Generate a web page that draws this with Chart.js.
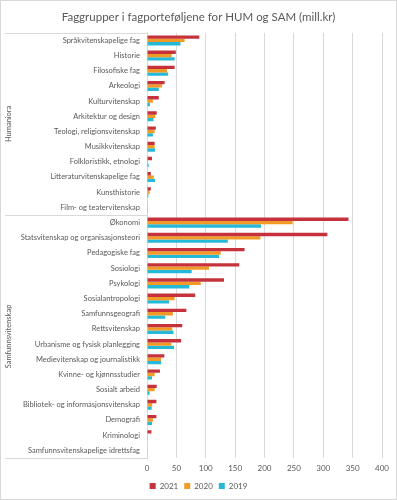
<!DOCTYPE html>
<html>
<head>
<meta charset="utf-8">
<script src="https://cdn.jsdelivr.net/npm/chart.js@4.4.0/dist/chart.umd.min.js"></script>
<style>
  body { margin: 0; background: #fff; }
</style>
</head>
<body>
<canvas id="fagChart" width="397" height="500"></canvas>
<script>
// Humaniora
var humLabels = ['Språkvitenskapelige fag', 'Historie', 'Filosofiske fag', 'Arkeologi', 'Kulturvitenskap',
    'Arkitektur og design', 'Teologi, religionsvitenskap', 'Musikkvitenskap', 'Folkloristikk, etnologi',
    'Litteraturvitenskapelige fag', 'Kunsthistorie', 'Film- og teatervitenskap'];
var hum2021 = [89, 49, 47, 30, 20, 16.5, 15, 13, 8.5, 6.5, 6.5, 1];
var hum2020 = [64, 42, 34, 25.5, 10, 14, 13, 13, 1.7, 11.5, 4.5, 0.5];
var hum2019 = [57, 47, 36, 20, 5, 11, 10, 13.5, 2.8, 13.5, 2.3, 0.3];

// Samfunnsvitenskap
var samLabels = ['Økonomi', 'Statsvitenskap og organisasjonsteori', 'Pedagogiske fag', 'Sosiologi', 'Psykologi',
    'Sosialantropologi', 'Samfunnsgeografi', 'Rettsvitenskap', 'Urbanisme og fysisk planlegging',
    'Medievitenskap og journalistikk', 'Kvinne- og kjønnsstudier', 'Sosialt arbeid',
    'Bibliotek- og informasjonsvitenskap', 'Demografi', 'Kriminologi', 'Samfunnsvitenskapelige idrettsfag'];
var sam2021 = [343, 307, 166, 157, 131, 82, 67, 60, 58, 29.5, 22, 16.5, 16, 16, 7.5, 0];
var sam2020 = [248, 193, 125.5, 105.5, 91.5, 47, 44, 43, 41.5, 24, 13, 13, 9, 10, 0.7, 1.2];
var sam2019 = [194, 137.5, 122.5, 76, 72, 37.5, 31, 45, 46, 24, 8.5, 4.5, 8, 8.5, 1, 0];

var groupNames = ['Humaniora', 'Samfunnsvitenskap'];
var xTicks = [0, 50, 100, 150, 200, 250, 300, 350, 400];

var textColor = '#595959';
var lineColor = '#d9d9d9';
Chart.defaults.font.family = 'Lato, "Liberation Sans", sans-serif';
Chart.defaults.color = textColor;

// separators and rotated group names at the left, plus the outer frame
var groupAxis = {
    id: 'groupAxis',
    afterDraw: function (chart) {
        var ctx = chart.ctx, area = chart.chartArea, y = chart.scales.y;
        var half = (y.getPixelForTick(1) - y.getPixelForTick(0)) / 2;
        var n1 = humLabels.length, n = n1 + samLabels.length;
        var bounds = [y.getPixelForTick(0) - half, y.getPixelForTick(n1) - half, y.getPixelForTick(n - 1) + half];
        ctx.save();
        ctx.strokeStyle = lineColor;
        ctx.lineWidth = 1;
        bounds.forEach(function (b) {
            ctx.beginPath();
            ctx.moveTo(5, Math.round(b) + 0.5);
            ctx.lineTo(area.left, Math.round(b) + 0.5);
            ctx.stroke();
        });
        ctx.strokeRect(0.5, 0.5, chart.width - 1, chart.height - 1);

        ctx.fillStyle = textColor;
        ctx.font = '7.5px Lato, sans-serif';
        ctx.textAlign = 'center';
        ctx.textBaseline = 'middle';
        var mids = [(bounds[0] + bounds[1]) / 2, (bounds[1] + bounds[2]) / 2];
        mids.forEach(function (m, i) {
            ctx.save();
            ctx.translate(9, m);
            ctx.rotate(-Math.PI / 2);
            ctx.fillText(groupNames[i], 0, 0);
            ctx.restore();
        });
        ctx.restore();
    }
};

var ctx = document.getElementById('fagChart').getContext('2d');
var fagChart = new Chart(ctx, {
    type: 'bar',
    data: {
        labels: humLabels.concat(samLabels),
        datasets: [
            { label: '2021', data: hum2021.concat(sam2021), backgroundColor: '#c5323b' },
            { label: '2020', data: hum2020.concat(sam2020), backgroundColor: '#f29a26' },
            { label: '2019', data: hum2019.concat(sam2019), backgroundColor: '#25b9d7' }
        ]
    },
    options: {
        indexAxis: 'y',
        responsive: false,
        animation: false,
        categoryPercentage: 0.66,
        barPercentage: 1,
        layout: { padding: { top: 4, left: 15, right: 15, bottom: 0 } },
        scales: {
            x: {
                min: 0,
                max: 400,
                afterBuildTicks: function (scale) {
                    scale.ticks = xTicks.map(function (v) { return { value: v }; });
                },
                afterFit: function (scale) { scale.height = 18; },
                grid: { color: lineColor, drawTicks: false },
                border: { display: false },
                ticks: { padding: 6, font: { size: 8 } }
            },
            y: {
                afterFit: function (scale) { scale.width = 132; },
                grid: { display: false, drawTicks: false },
                border: { color: lineColor },
                ticks: { padding: 7, autoSkip: false, font: { size: 7.5 } }
            }
        },
        plugins: {
            title: {
                display: true,
                text: 'Faggrupper i fagporteføljene for HUM og SAM (mill.kr)',
                font: { size: 11.5, weight: 'normal' },
                color: textColor,
                padding: { top: 6, bottom: 9 }
            },
            legend: {
                position: 'bottom',
                labels: { boxWidth: 6, boxHeight: 6, padding: 6, font: { size: 8 } }
            },
            tooltip: { enabled: false }
        }
    },
    plugins: [groupAxis]
});
</script>
</body>
</html>
